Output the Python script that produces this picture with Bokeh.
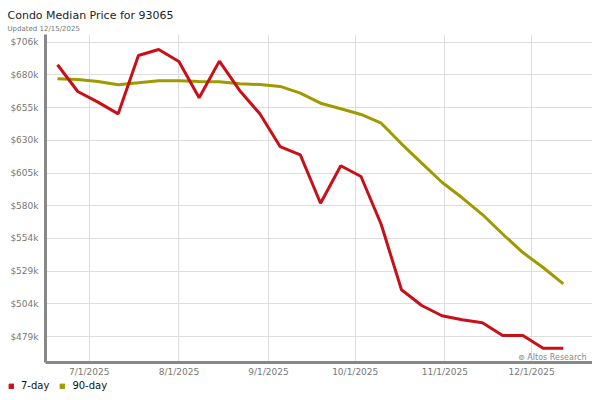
from datetime import datetime
from bokeh.plotting import figure
from bokeh.layouts import column
from bokeh.models import (ColumnDataSource, FixedTicker, CustomJSTickFormatter,
                          DatetimeTickFormatter, Label, Legend, LegendItem, Range1d, Title)
from bokeh.embed import file_html
from bokeh.resources import INLINE

# ---- data ----
week_dates = ["2025-06-20", "2025-06-27", "2025-07-04", "2025-07-11", "2025-07-18",
              "2025-07-25", "2025-08-01", "2025-08-08", "2025-08-15", "2025-08-22",
              "2025-08-29", "2025-09-05", "2025-09-12", "2025-09-19", "2025-09-26",
              "2025-10-03", "2025-10-10", "2025-10-17", "2025-10-24", "2025-10-31",
              "2025-11-07", "2025-11-14", "2025-11-21", "2025-11-28", "2025-12-05",
              "2025-12-12"]
price_7day = [688700, 668100, 659900, 650900, 695900, 700500, 691200, 663300, 691500,
              668900, 650900, 625700, 619300, 582000, 610900, 602600, 565600, 515300,
              503200, 495300, 492200, 489900, 480100, 480100, 470300, 470300]
price_90day = [677900, 677400, 675800, 673300, 674800, 676400, 676400, 675800, 675600,
               674000, 673500, 672000, 666800, 659100, 654800, 650400, 643700, 627800,
               612900, 598200, 586200, 573300, 558300, 544000, 532500, 519900]
y_ticks = [479300, 504500, 529700, 554900, 580100, 605300, 630500, 655700, 680900, 706100]
x_tick_dates = ["2025-07-01", "2025-08-01", "2025-09-01", "2025-10-01", "2025-11-01", "2025-12-01"]
series_names = ["7-day", "90-day"]
title_text = "Condo Median Price for 93065"
subtitle_text = "Updated 12/15/2025"
watermark_text = "\u229a Altos Research"

RED = "#c81018"
OLIVE = "#a09a00"
FONT = "DejaVu Sans"

dates = [datetime.fromisoformat(d) for d in week_dates]
src = ColumnDataSource(dict(date=dates, p7=price_7day, p90=price_90day))

p = figure(width=592, height=380, x_axis_type="datetime", output_backend="svg",
           toolbar_location=None, title=None,
           x_range=Range1d(datetime(2025, 6, 15, 20, 24), datetime(2025, 12, 22, 2, 0)),
           y_range=Range1d(459277, 712034))
p.frame_align = False
p.min_border_left = 45
p.min_border_right = 0
p.min_border_top = 34
p.min_border_bottom = 18
p.outline_line_color = None
p.background_fill_color = "white"
p.border_fill_color = "white"

r90 = p.line("date", "p90", source=src, color=OLIVE, line_width=3)
r7 = p.line("date", "p7", source=src, color=RED, line_width=3)

# axes
xticks = [datetime.fromisoformat(d).timestamp() * 1000 for d in x_tick_dates]
p.xaxis.ticker = FixedTicker(ticks=xticks)
fmt = "%-m/%-d/%Y"
p.xaxis.formatter = DatetimeTickFormatter(milliseconds=fmt, seconds=fmt, minsec=fmt, minutes=fmt,
                                          hourmin=fmt, hours=fmt, days=fmt, months=fmt, years=fmt)
p.yaxis.ticker = FixedTicker(ticks=y_ticks)
p.yaxis.formatter = CustomJSTickFormatter(code="return '$' + Math.floor(tick/1000) + 'k';")
for ax in (p.xaxis[0], p.yaxis[0]):
    ax.axis_line_color = "#888888"
    ax.axis_line_width = 3
    ax.major_tick_line_color = None
    ax.minor_tick_line_color = None
    ax.major_tick_out = 0
    ax.major_tick_in = 0
    ax.minor_tick_out = 0
    ax.minor_tick_in = 0
    ax.major_label_text_font = FONT
    ax.major_label_text_font_size = "9px"
    ax.major_label_text_color = "#777777"
p.xaxis.major_label_standoff = 4
p.yaxis.major_label_standoff = 7

p.xgrid.grid_line_color = "#dddddd"
p.ygrid.grid_line_color = "#dddddd"

# titles
p.add_layout(Title(text=subtitle_text, align="left", offset=-38, standoff=3,
                   text_font=FONT, text_font_size="7px", text_color="#777777",
                   text_font_style="normal"), "above")
p.add_layout(Title(text=title_text, align="left", offset=-38, standoff=0,
                   text_font=FONT, text_font_size="11px", text_color="#222222",
                   text_font_style="normal"), "above")

p.add_layout(Label(x=541, y=5, x_units="screen", y_units="screen", text=watermark_text,
                   text_font=FONT, text_font_size="8px", text_color="#888888",
                   text_align="right", text_baseline="alphabetic"))

# legend strip (proxy swatches sit outside the strip's visible range)
lg = figure(width=592, height=12, output_backend="svg", toolbar_location=None,
            x_axis_location=None, y_axis_location=None, title=None,
            x_range=Range1d(0, 1), y_range=Range1d(0, 1))
lg.frame_align = False
lg.min_border_left = 0
lg.min_border_right = 0
lg.min_border_top = 0
lg.min_border_bottom = 0
lg.outline_line_color = None
lg.xgrid.visible = False
lg.ygrid.visible = False
q7 = lg.quad(left=[5], right=[6], top=[6], bottom=[5], color=RED)
q90 = lg.quad(left=[5], right=[6], top=[6], bottom=[5], color=OLIVE)
legend = Legend(items=[LegendItem(label=series_names[0], renderers=[q7]),
                       LegendItem(label=series_names[1], renderers=[q90])],
                location=(8, 1), orientation="horizontal",
                glyph_width=6, glyph_height=6, label_height=10, label_standoff=7,
                spacing=10, padding=0, margin=0, border_line_color=None,
                background_fill_alpha=0, label_text_font=FONT,
                label_text_font_size="10px", label_text_color="#111111")
lg.add_layout(legend, "center")

layout = column(p, lg, spacing=0)
open("out.html", "w").write(file_html(layout, INLINE))
